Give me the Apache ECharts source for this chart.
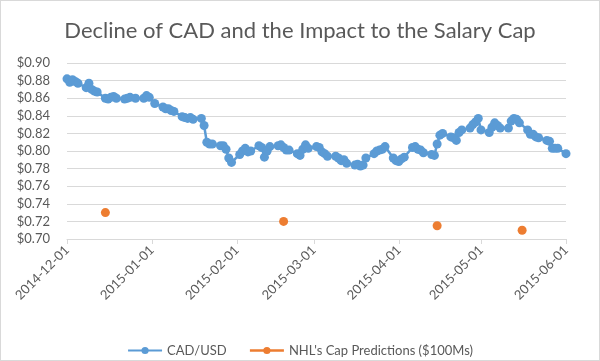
<!DOCTYPE html>
<html>
<head>
<meta charset="utf-8">
<script src="https://cdn.jsdelivr.net/npm/echarts@6/dist/echarts.min.js"></script>
<style>
html,body{margin:0;padding:0;background:#fff;}
#chart{width:600px;height:361px;box-sizing:border-box;border:1px solid #d9d9d9;}
</style>
</head>
<body>
<div id="chart"></div>
<script>
var titleText = 'Decline of CAD and the Impact to the Salary Cap';
var seriesNames = ['CAD/USD', "NHL's Cap Predictions ($100Ms)"];

var dates = [
 '2014-12-01','2014-12-02','2014-12-03','2014-12-04','2014-12-05',
 '2014-12-08','2014-12-09','2014-12-10','2014-12-11','2014-12-12',
 '2014-12-15','2014-12-16','2014-12-17','2014-12-18','2014-12-19',
 '2014-12-22','2014-12-23','2014-12-24','2014-12-26',
 '2014-12-29','2014-12-30','2014-12-31',
 '2015-01-02',
 '2015-01-05','2015-01-06','2015-01-07','2015-01-08','2015-01-09',
 '2015-01-12','2015-01-13','2015-01-14','2015-01-15','2015-01-16',
 '2015-01-19','2015-01-20','2015-01-21','2015-01-22','2015-01-23',
 '2015-01-26','2015-01-27','2015-01-28','2015-01-29','2015-01-30',
 '2015-02-02','2015-02-03','2015-02-04','2015-02-05','2015-02-06',
 '2015-02-09','2015-02-10','2015-02-11','2015-02-12','2015-02-13',
 '2015-02-16','2015-02-17','2015-02-18','2015-02-19','2015-02-20',
 '2015-02-23','2015-02-24','2015-02-25','2015-02-26','2015-02-27',
 '2015-03-02','2015-03-03','2015-03-04','2015-03-05','2015-03-06',
 '2015-03-09','2015-03-10','2015-03-11','2015-03-12','2015-03-13',
 '2015-03-16','2015-03-17','2015-03-18','2015-03-19','2015-03-20',
 '2015-03-23','2015-03-24','2015-03-25','2015-03-26','2015-03-27',
 '2015-03-30','2015-03-31',
 '2015-04-01','2015-04-02','2015-04-03',
 '2015-04-06','2015-04-07','2015-04-08','2015-04-09','2015-04-10',
 '2015-04-13','2015-04-14','2015-04-15','2015-04-16','2015-04-17',
 '2015-04-20','2015-04-21','2015-04-22','2015-04-23','2015-04-24',
 '2015-04-27','2015-04-28','2015-04-29','2015-04-30',
 '2015-05-01',
 '2015-05-04','2015-05-05','2015-05-06','2015-05-07','2015-05-08',
 '2015-05-11','2015-05-12','2015-05-13','2015-05-14','2015-05-15',
 '2015-05-18','2015-05-19','2015-05-20','2015-05-21','2015-05-22',
 '2015-05-25','2015-05-26','2015-05-27','2015-05-28','2015-05-29',
 '2015-06-01'
];

var cadUsd = [
 0.882,0.878,0.881,0.879,0.877,
 0.872,0.877,0.870,0.868,0.867,
 0.860,0.859,0.861,0.862,0.860,
 0.859,0.860,0.861,0.860,
 0.860,0.863,0.861,
 0.854,
 0.850,0.848,0.848,0.846,0.845,
 0.839,0.838,0.837,0.838,0.836,
 0.837,0.829,0.810,0.808,0.808,
 0.806,0.806,0.802,0.792,0.787,
 0.796,0.800,0.803,0.799,0.800,
 0.806,0.804,0.793,0.800,0.805,
 0.806,0.807,0.804,0.801,0.801,
 0.797,0.795,0.802,0.807,0.803,
 0.805,0.804,0.799,0.797,0.794,
 0.794,0.792,0.789,0.790,0.786,
 0.784,0.785,0.783,0.784,0.792,
 0.797,0.800,0.801,0.802,0.805,
 0.792,0.789,
 0.788,0.791,0.793,
 0.804,0.805,0.802,0.801,0.798,
 0.796,0.795,0.808,0.818,0.820,
 0.816,0.815,0.812,0.821,0.824,
 0.826,0.830,0.833,0.837,
 0.824,
 0.821,0.827,0.832,0.829,0.826,
 0.826,0.834,0.837,0.836,0.832,
 0.824,0.819,0.819,0.816,0.815,
 0.812,0.811,0.803,0.803,0.803,
 0.797
];

var capDates = ['2014-12-15','2015-02-18','2015-04-15','2015-05-16'];
var capValues = [0.730, 0.720, 0.715, 0.710];

var yTicks = {min: 0.70, max: 0.90, interval: 0.02};
var xRange = {min: '2014-12-01', max: '2015-06-01'};

var cadData = dates.map(function(d, i){ return [d, cadUsd[i]]; });
var capData = capDates.map(function(d, i){ return [d, capValues[i]]; });

var FONT = 'Lato';
var TXT = '#595959';
var chart = echarts.init(document.getElementById('chart'), null, {renderer: 'canvas'});
chart.setOption({
  animation: false,
  title: {
    text: titleText, left: 'center', top: 14,
    textStyle: {fontFamily: FONT, fontSize: 22, fontWeight: 'normal', color: TXT}
  },
  grid: {left: 66, right: 33, top: 62, bottom: 121, containLabel: false},
  legend: {
    top: 338, left: 'center', itemWidth: 34, itemHeight: 9, itemGap: 22,
    textStyle: {fontFamily: FONT, fontSize: 13, color: TXT},
    data: [
      {name: seriesNames[0]},
      {name: seriesNames[1], lineStyle: {opacity: 1, width: 2.5, color: '#ED7D31'}}
    ]
  },
  xAxis: {
    type: 'time', min: xRange.min, max: xRange.max,
    splitNumber: 6,
    axisLine: {show: true, lineStyle: {color: '#d9d9d9', width: 1}},
    axisTick: {show: true, length: 5, lineStyle: {color: '#d9d9d9'}},
    splitLine: {show: false},
    minorTick: {show: false},
    axisLabel: {
      rotate: 45, color: TXT, fontFamily: FONT, fontSize: 13, margin: 9,
      showMinLabel: true, showMaxLabel: true,
      formatter: function(v){ return echarts.time.format(v, '{yyyy}-{MM}-{dd}', false); }
    }
  },
  yAxis: {
    type: 'value', min: yTicks.min, max: yTicks.max, interval: yTicks.interval,
    axisLine: {show: false}, axisTick: {show: false},
    splitLine: {lineStyle: {color: '#d9d9d9', width: 1}},
    axisLabel: {
      color: TXT, fontFamily: FONT, fontSize: 13, margin: 17,
      formatter: function(v){ return '$' + v.toFixed(2); }
    }
  },
  series: [
    {
      name: seriesNames[0], type: 'line', data: cadData,
      symbol: 'circle', symbolSize: 9, showAllSymbol: true,
      lineStyle: {color: '#5B9BD5', width: 2.5},
      itemStyle: {color: '#5B9BD5'}
    },
    {
      name: seriesNames[1], type: 'line', data: capData,
      symbol: 'circle', symbolSize: 9,
      lineStyle: {opacity: 0, color: '#ED7D31'},
      itemStyle: {color: '#ED7D31'}
    }
  ]
});
</script>
</body>
</html>
